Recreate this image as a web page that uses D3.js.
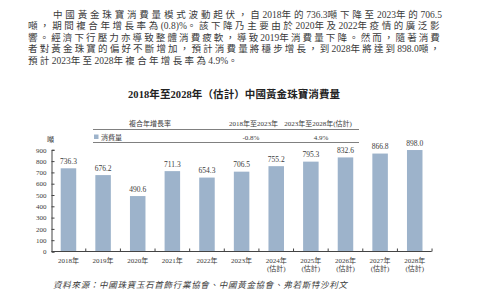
<!DOCTYPE html>
<html>
<head>
<meta charset="utf-8">
<script src="https://cdn.jsdelivr.net/npm/d3@7"></script>
<style>
  body { margin: 0; background: #fff; }
  svg { display: block; }
  text { font-family: "Liberation Serif", "Noto Sans CJK TC", serif; fill: #3a3a3a; }
</style>
</head>
<body>
<div id="chart"></div>
<script>
// data
var years = ["2018年", "2019年", "2020年", "2021年", "2022年", "2023年", "2024年", "2025年", "2026年", "2027年", "2028年"];
var estimated = [false, false, false, false, false, false, true, true, true, true, true];
var consumption = [736.3, 676.2, 490.6, 711.3, 654.3, 706.5, 755.2, 795.3, 832.6, 866.8, 898.0];
var yTicks = [0, 100, 200, 300, 400, 500, 600, 700, 800, 900];
var cagrPeriods = ["2018年至2023年", "2023年至2028年(估計)"];
var cagrValues = ["-0.8%", "4.9%"];
var paragraph = [
  "中國黃金珠寶消費量模式波動起伏，自2018年的736.3噸下降至2023年的706.5",
  "噸，期間複合年增長率為(0.8)%。該下降乃主要由於2020年及2022年疫情的廣泛影",
  "響。經濟下行壓力亦導致整體消費疲軟，導致2019年消費量下降。然而，隨著消費",
  "者對黃金珠寶的偏好不斷增加，預計消費量將穩步增長，到2028年將達到898.0噸，",
  "預計2023年至2028年複合年增長率為4.9%。"
];

// put CJK runs and latin runs in separate tspans so only CJK gets spread out
function splitRuns(str) {
  var runs = [];
  for (var k = 0; k < str.length; k++) {
    var ch = str[k];
    var cjk = /[^\x00-\x7f]/.test(ch);
    if (runs.length && runs[runs.length - 1].cjk === cjk) {
      runs[runs.length - 1].t += ch;
    } else {
      runs.push({ t: ch, cjk: cjk });
    }
  }
  return runs;
}

function spreadText(sel, str, target) {
  var runs = splitRuns(str);
  sel.selectAll("tspan")
    .data(runs)
    .enter()
    .append("tspan")
    .attr("class", function (r) { return r.cjk ? "cjk" : "lat"; })
    .text(function (r) { return r.t; });
  var n = 0;
  runs.forEach(function (r) { if (r.cjk) n += r.t.length; });
  var w0 = sel.node().getComputedTextLength();
  var s = (target - w0) / n;
  sel.selectAll("tspan.cjk").style("letter-spacing", s + "px");
}

function drawChart() {
  var w = 499;
  var h = 294;
  var barColor = "#9db3cb";

  var svg = d3.select("#chart").append("svg")
    .attr("width", w)
    .attr("height", h);

  // paragraph, justified line by line
  var lineX = [53, 28, 28, 28, 28];
  var lineW = [389, 414, 414, 414, 212];
  paragraph.forEach(function (line, i) {
    var t = svg.append("text")
      .attr("x", lineX[i])
      .attr("y", 17.5 + i * 11.6)
      .style("font-size", "9.5px");
    spreadText(t, line, lineW[i]);
  });

  // title
  svg.append("text")
    .attr("x", 128)
    .attr("y", 98)
    .attr("textLength", 212)
    .attr("lengthAdjust", "spacing")
    .style("font-size", "10.5px")
    .style("font-weight", "bold")
    .style("fill", "#222")
    .text("2018年至2028年（估計）中國黃金珠寶消費量");

  // CAGR table
  var colX = [253.5, 318];
  svg.append("text")
    .attr("x", 150).attr("y", 125.5)
    .attr("text-anchor", "middle")
    .style("font-size", "7px")
    .text("複合年增長率");
  svg.selectAll("text.period")
    .data(cagrPeriods)
    .enter()
    .append("text")
    .attr("class", "period")
    .attr("x", function (d, i) { return colX[i]; })
    .attr("y", 125.5)
    .attr("text-anchor", "middle")
    .style("font-size", "7px")
    .text(function (d) { return d; });
  svg.selectAll("text.cagr")
    .data(cagrValues)
    .enter()
    .append("text")
    .attr("class", "cagr")
    .attr("x", function (d, i) { return [251, 321][i]; })
    .attr("y", 139.5)
    .attr("text-anchor", "middle")
    .style("font-size", "7px")
    .text(function (d) { return d; });
  [129.5, 142.5].forEach(function (yy) {
    svg.append("line")
      .attr("x1", 93).attr("x2", 359)
      .attr("y1", yy).attr("y2", yy)
      .attr("stroke", "#808080")
      .attr("stroke-width", 1);
  });
  svg.append("rect")
    .attr("x", 94).attr("y", 134.5)
    .attr("width", 4.5).attr("height", 4.5)
    .attr("fill", barColor);
  svg.append("text")
    .attr("x", 101).attr("y", 139.5)
    .style("font-size", "7px")
    .text("消費量");

  // scales
  var xScale = d3.scaleBand()
    .domain(years)
    .range([51.5, 431.7])
    .paddingInner(0.552)
    .paddingOuter(0.266);
  var yScale = d3.scaleLinear()
    .domain([0, 900])
    .range([251.5, 149.8]);

  // y axis
  var yAxis = svg.append("g")
    .attr("transform", "translate(51.5,0)")
    .call(d3.axisLeft(yScale).tickValues(yTicks).tickSize(-3).tickPadding(5));
  yAxis.select(".domain").attr("stroke", "#444");
  yAxis.selectAll(".tick line").attr("stroke", "#444");
  yAxis.selectAll("text")
    .style("font-size", "7px")
    .style("font-family", "'Liberation Serif', serif")
    .attr("fill", "#3a3a3a");

  svg.append("text")
    .attr("x", 50.5).attr("y", 142)
    .attr("text-anchor", "middle")
    .style("font-size", "7px")
    .text("噸");

  // bars
  svg.selectAll("rect.bar")
    .data(consumption)
    .enter()
    .append("rect")
    .attr("class", "bar")
    .attr("x", function (d, i) { return xScale(years[i]); })
    .attr("y", function (d) { return yScale(d); })
    .attr("width", xScale.bandwidth())
    .attr("height", function (d) { return yScale(0) - yScale(d); })
    .attr("fill", barColor);

  // value labels
  svg.selectAll("text.val")
    .data(consumption)
    .enter()
    .append("text")
    .attr("class", "val")
    .attr("x", function (d, i) { return xScale(years[i]) + xScale.bandwidth() / 2; })
    .attr("y", function (d) { return yScale(d) - 4.5; })
    .attr("text-anchor", "middle")
    .style("font-size", "7.5px")
    .text(function (d) { return d.toFixed(1); });

  // x axis line with ticks between bands
  var base = yScale(0);
  svg.append("line")
    .attr("x1", 51.5).attr("x2", 431.7)
    .attr("y1", base).attr("y2", base)
    .attr("stroke", "#444");
  var gap = (xScale.step() - xScale.bandwidth()) / 2;
  svg.selectAll("line.xtick")
    .data(years)
    .enter()
    .append("line")
    .attr("class", "xtick")
    .attr("x1", function (d) { return xScale(d) + xScale.bandwidth() + gap; })
    .attr("x2", function (d) { return xScale(d) + xScale.bandwidth() + gap; })
    .attr("y1", base).attr("y2", base - 3)
    .attr("stroke", "#444");

  // x labels
  var xl = svg.selectAll("g.xlab")
    .data(years)
    .enter()
    .append("g")
    .attr("class", "xlab")
    .attr("transform", function (d) {
      return "translate(" + (xScale(d) + xScale.bandwidth() / 2) + ",0)";
    });
  xl.append("text")
    .attr("y", 262.5)
    .attr("text-anchor", "middle")
    .style("font-size", "7px")
    .text(function (d) { return d; });
  xl.filter(function (d, i) { return estimated[i]; })
    .append("text")
    .attr("y", 270.5)
    .attr("text-anchor", "middle")
    .style("font-size", "7px")
    .text("(估計)");

  // source
  svg.append("text")
    .attr("x", 53).attr("y", 287.5)
    .attr("textLength", 294)
    .attr("lengthAdjust", "spacing")
    .style("font-size", "8.5px")
    .style("font-style", "italic")
    .text("資料來源：中國珠寶玉石首飾行業協會、中國黃金協會、弗若斯特沙利文");
}
window.onload = drawChart;
</script>
</body>
</html>
